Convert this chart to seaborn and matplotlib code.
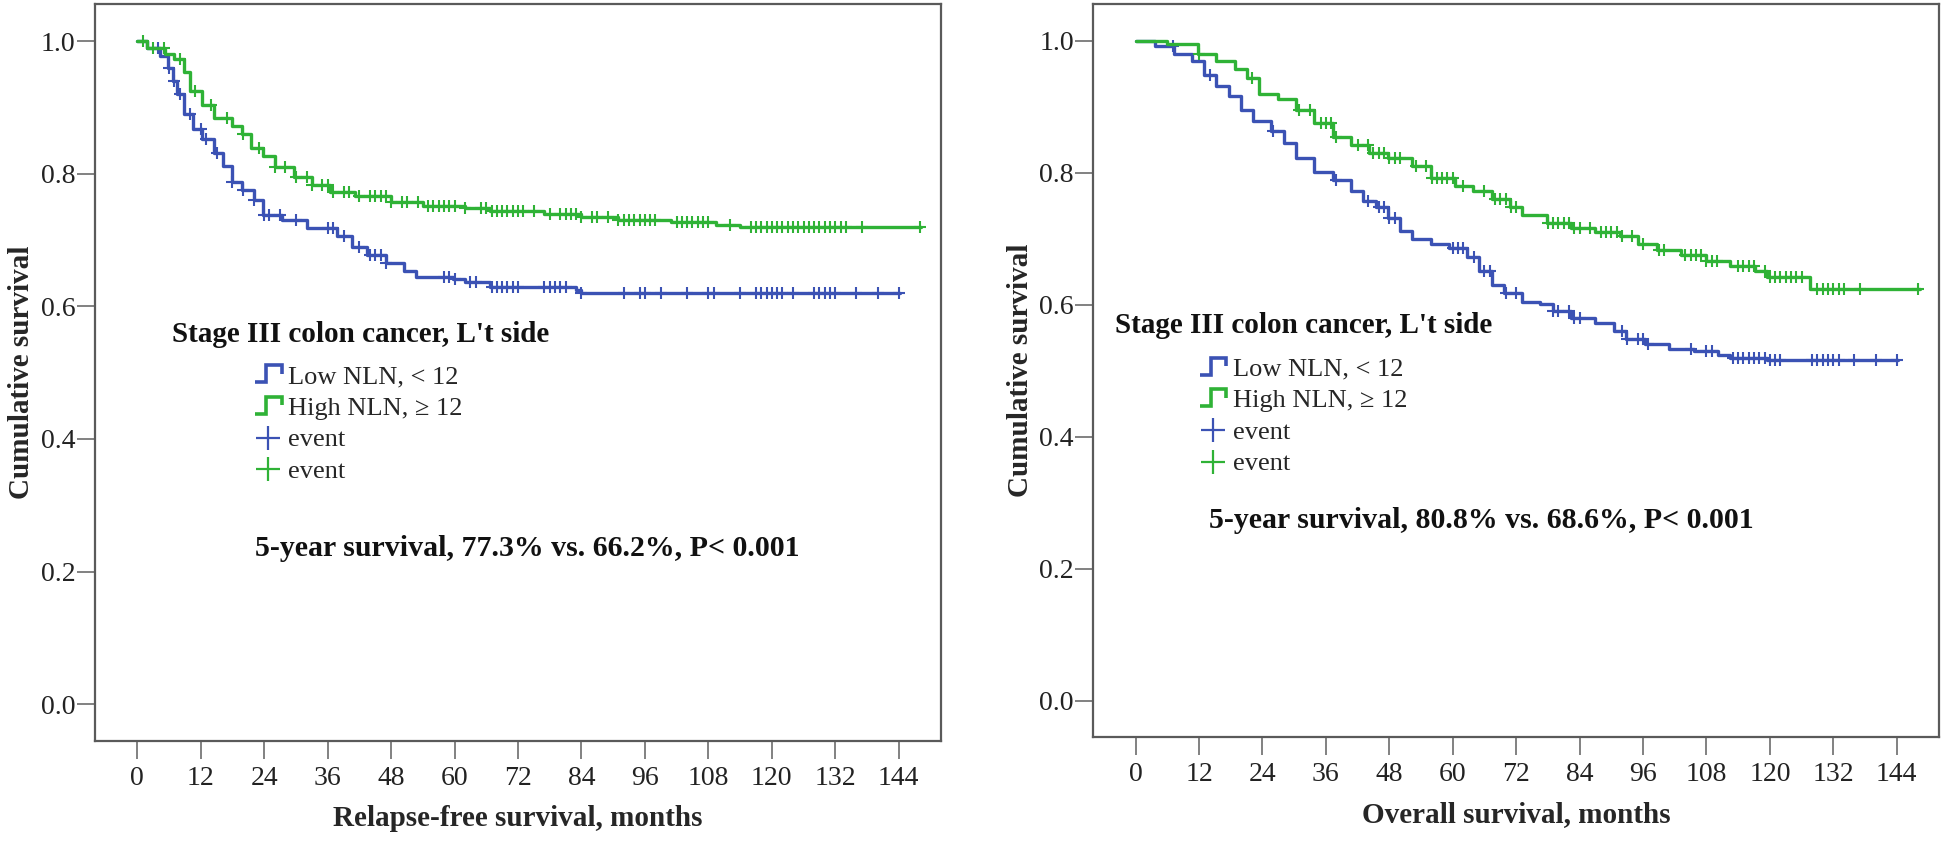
import numpy as np
import pandas as pd
import matplotlib
matplotlib.use("Agg")
import matplotlib.pyplot as plt
import seaborn as sns
from matplotlib.lines import Line2D
from matplotlib.legend_handler import HandlerBase

# ---------------- data ----------------
# Relapse-free survival, Low NLN (< 12): step times (months) and survival after each step
rfs_low_t = [0, 1.9, 4.2, 5.9, 6.8, 7.6, 8.8, 10.5, 12.3, 14.6, 16.3, 18.0, 19.8, 22.0, 23.8,
             27.3, 32.0, 37.7, 40.6, 43.5, 47.0, 50.5, 52.8, 59.7, 62.0, 66.7, 82.9, 84.0]
rfs_low_s = [1.0, 0.990, 0.977, 0.960, 0.940, 0.920, 0.890, 0.868, 0.852, 0.831, 0.811, 0.787, 0.775, 0.761, 0.738,
             0.730, 0.718, 0.706, 0.689, 0.677, 0.665, 0.653, 0.645, 0.641, 0.637, 0.629, 0.624, 0.620]
rfs_low_end = 144.2
rfs_low_cens = [4, 6, 7, 8, 10, 12, 13, 15, 18, 20, 22, 24, 25, 27, 30, 36, 37, 39, 42, 44, 45, 46, 47,
                58, 59, 60, 63, 64, 67, 68, 69, 70, 71, 72, 77, 78, 79, 80, 81, 84, 92, 95, 96, 99,
                104, 108, 109, 114, 117, 118, 119, 120, 121, 122, 124, 128, 129, 130, 131, 132, 136, 140, 144]

# Relapse-free survival, High NLN (>= 12)
rfs_high_t = [0, 1.9, 5.3, 7.0, 8.8, 10.0, 12.3, 14.6, 18.0, 19.8, 21.5, 23.8, 26.0, 29.6, 33.0,
              36.5, 41.2, 48.0, 54.0, 62.0, 66.7, 77.0, 84.0, 91.0, 101.0, 109.5, 114.0]
rfs_high_s = [1.0, 0.990, 0.981, 0.973, 0.953, 0.925, 0.904, 0.884, 0.872, 0.860, 0.839, 0.827, 0.810, 0.795, 0.783,
              0.772, 0.766, 0.758, 0.752, 0.748, 0.744, 0.740, 0.735, 0.730, 0.727, 0.723, 0.720]
rfs_high_end = 148.3
rfs_high_cens = [1, 3, 5, 8, 11, 14, 17, 20, 23, 26, 28, 30, 32, 33, 35, 36, 37, 39, 40, 42, 44, 45, 46, 47,
                 48, 50, 51, 53, 55, 56, 57, 58, 59, 60, 62, 65, 66, 67, 68, 69, 70, 71, 72, 73, 75, 78,
                 80, 81, 82, 83, 84, 86, 87, 89, 91, 92, 93, 94, 95, 96, 97, 98, 102, 103, 104, 105, 106,
                 107, 108, 112, 116, 117, 118, 119, 120, 121, 122, 123, 124, 125, 126, 127, 128, 129, 130,
                 131, 132, 133, 134, 137, 148]

# Overall survival, Low NLN (< 12)
os_low_t = [0, 3.7, 7.2, 10.6, 13.0, 15.3, 17.6, 19.9, 22.2, 25.7, 28.0, 30.3, 33.8, 37.3, 40.7, 43.0,
            45.4, 47.7, 50.0, 52.3, 55.8, 59.3, 62.7, 65.0, 67.4, 69.7, 73.1, 76.6, 78.9, 82.4, 87.0,
            90.5, 92.8, 96.3, 100.9, 105.6, 110.2, 112.5, 119.4]
os_low_s = [1.0, 0.993, 0.981, 0.969, 0.948, 0.932, 0.916, 0.895, 0.879, 0.863, 0.846, 0.822, 0.802, 0.789, 0.773, 0.757,
            0.749, 0.732, 0.712, 0.700, 0.692, 0.686, 0.673, 0.651, 0.630, 0.618, 0.604, 0.602, 0.591, 0.581, 0.572,
            0.561, 0.549, 0.541, 0.534, 0.531, 0.524, 0.520, 0.516]
os_low_end = 144.3
os_low_cens = [7, 14, 26, 38, 44, 46, 47, 48, 49, 60, 61, 62, 64, 66, 67, 70, 72, 79, 80, 82, 83, 84, 92,
               93, 95, 96, 97, 105, 108, 109, 113, 114, 115, 116, 117, 118, 119, 120, 121, 122, 128, 129,
               130, 131, 132, 133, 136, 140, 144]

# Overall survival, High NLN (>= 12)
os_high_t = [0, 6.0, 11.8, 15.3, 18.8, 21.0, 23.4, 26.9, 30.3, 33.8, 37.3, 40.7, 44.2, 47.7, 52.3, 55.8,
             60.4, 63.9, 67.4, 70.8, 73.1, 77.8, 82.4, 87.0, 91.7, 95.1, 98.6, 103.2, 107.9, 112.5, 117.1,
             119.4, 127.5]
os_high_s = [1.0, 0.995, 0.981, 0.969, 0.957, 0.944, 0.920, 0.912, 0.895, 0.875, 0.855, 0.842, 0.830, 0.822, 0.810, 0.793,
             0.781, 0.773, 0.761, 0.749, 0.736, 0.724, 0.716, 0.710, 0.704, 0.692, 0.683, 0.675, 0.667, 0.659, 0.651,
             0.643, 0.624]
os_high_end = 148.4
os_high_cens = [12, 22, 31, 33, 35, 36, 37, 38, 42, 44, 45, 46, 47, 48, 49, 50, 53, 55, 56, 57, 58, 59, 60,
                62, 66, 68, 69, 70, 71, 72, 78, 79, 80, 81, 82, 83, 84, 86, 88, 89, 90, 91, 92, 94, 96, 99,
                100, 104, 105, 106, 107, 108, 109, 110, 114, 115, 116, 117, 119, 120, 121, 122, 123, 124,
                125, 126, 129, 130, 131, 132, 133, 134, 137, 148]

group_labels = ["Low NLN, < 12", "High NLN, \u2265 12"]
event_labels = ["event", "event"]
legend_title = "Stage III colon cancer, L't side"
x_ticks = list(range(0, 145, 12))
y_ticks = [0.0, 0.2, 0.4, 0.6, 0.8, 1.0]
panel_xlabels = ["Relapse-free survival, months", "Overall survival, months"]
ylabel = "Cumulative survival"
annotations = ["5-year survival, 77.3% vs. 66.2%, P< 0.001",
               "5-year survival, 80.8% vs. 68.6%, P< 0.001"]

# ---------------- style ----------------
BLUE = "#3b52b4"
GREEN = "#2fb236"
SPINE = "#5a5a5a"

sns.set_theme(style="ticks")
plt.rcParams["font.family"] = ["Liberation Serif", "DejaVu Serif"]
plt.rcParams["mathtext.fontset"] = "stix"


class StepHandler(HandlerBase):
    def create_artists(self, legend, orig_handle, xdescent, ydescent, width, height, fontsize, trans):
        x0, y0 = -xdescent, -ydescent
        xs = [x0, x0 + 0.42 * width, x0 + 0.42 * width, x0 + width, x0 + width]
        ys = [y0 + 0.0 * height, y0 + 0.0 * height, y0 + 1.0 * height, y0 + 1.0 * height, y0 + 0.5 * height]
        ln = Line2D(xs, ys, color=orig_handle.get_color(), lw=2.6, solid_joinstyle="miter",
                    solid_capstyle="butt", transform=trans)
        return [ln]


def km_frame(t, s, end):
    tt = list(t) + [end]
    ss = list(s) + [s[-1]]
    return pd.DataFrame({"time": tt, "surv": ss})


def cens_frame(t, s, cens):
    t = np.asarray(t)
    s = np.asarray(s)
    c = np.asarray(cens, dtype=float)
    idx = np.searchsorted(t, c, side="right") - 1
    return pd.DataFrame({"time": c, "surv": s[idx]})


fig = plt.figure(figsize=(19.44, 8.43), dpi=100)
ax1 = fig.add_axes([95 / 1944, (843 - 740.7) / 843, (941 - 95) / 1944, (740.7 - 4) / 843])
ax2 = fig.add_axes([1093.3 / 1944, (843 - 737.3) / 843, (1939 - 1093.3) / 1944, (737.3 - 4) / 843])

panels = [
    (ax1, [(rfs_low_t, rfs_low_s, rfs_low_end, rfs_low_cens, BLUE),
           (rfs_high_t, rfs_high_s, rfs_high_end, rfs_high_cens, GREEN)]),
    (ax2, [(os_low_t, os_low_s, os_low_end, os_low_cens, BLUE),
           (os_high_t, os_high_s, os_high_end, os_high_cens, GREEN)]),
]

# text placement (data coordinates), per panel
title_pos = [(6.5, 0.557), (-3.8, 0.569)]
legend_anchor = [(22.3, 0.511), (12.2, 0.520)]
annot_pos = [(22.2, 0.235), (13.9, 0.273)]

for i, (ax, curves) in enumerate(panels):
    for (t, s, end, cens, col) in curves:
        d = km_frame(t, s, end)
        sns.lineplot(data=d, x="time", y="surv", ax=ax, color=col, lw=2.4,
                     drawstyle="steps-post", estimator=None, sort=False, legend=False)
        c = cens_frame(t, s, cens)
        ax.plot(c["time"], c["surv"], ls="none", marker="+", ms=8, mew=1.5, color=col)

    ax.set_xlim(-8, 152)
    ax.set_ylim(-0.055, 1.056)
    ax.set_xticks(x_ticks)
    ax.set_yticks(y_ticks)
    ax.set_yticklabels([f"{v:.1f}" for v in y_ticks])
    ax.tick_params(axis="both", direction="out", length=13, width=1.3, color="#777777",
                   labelsize=20, labelcolor="#222222")
    ax.tick_params(axis="x", pad=5)
    ax.tick_params(axis="y", pad=1)
    for sp in ax.spines.values():
        sp.set_visible(True)
        sp.set_color(SPINE)
        sp.set_linewidth(1.6)
    ax.set_xlabel(panel_xlabels[i], fontsize=21, fontweight="bold", labelpad=10)
    ax.set_ylabel(ylabel, fontsize=21, fontweight="bold", labelpad=4)

    ax.text(title_pos[i][0], title_pos[i][1], legend_title, fontsize=21, fontweight="bold",
            ha="left", va="center", color="#111111")
    handles = [Line2D([], [], color=BLUE), Line2D([], [], color=GREEN),
               Line2D([], [], color=BLUE, ls="none", marker="+", ms=17, mew=1.6),
               Line2D([], [], color=GREEN, ls="none", marker="+", ms=17, mew=1.6)]
    ax.legend(handles, group_labels + event_labels, loc="upper left",
              bbox_to_anchor=legend_anchor[i], bbox_transform=ax.transData,
              frameon=False, borderpad=0, borderaxespad=0, handlelength=1.0, handleheight=0.6,
              handletextpad=0.25, labelspacing=0.34, fontsize=19,
              handler_map={handles[0]: StepHandler(), handles[1]: StepHandler()})
    ax.text(annot_pos[i][0], annot_pos[i][1], annotations[i], fontsize=21.5, fontweight="bold",
            ha="left", va="center", color="#111111")

fig.savefig("out.png", dpi=100)
